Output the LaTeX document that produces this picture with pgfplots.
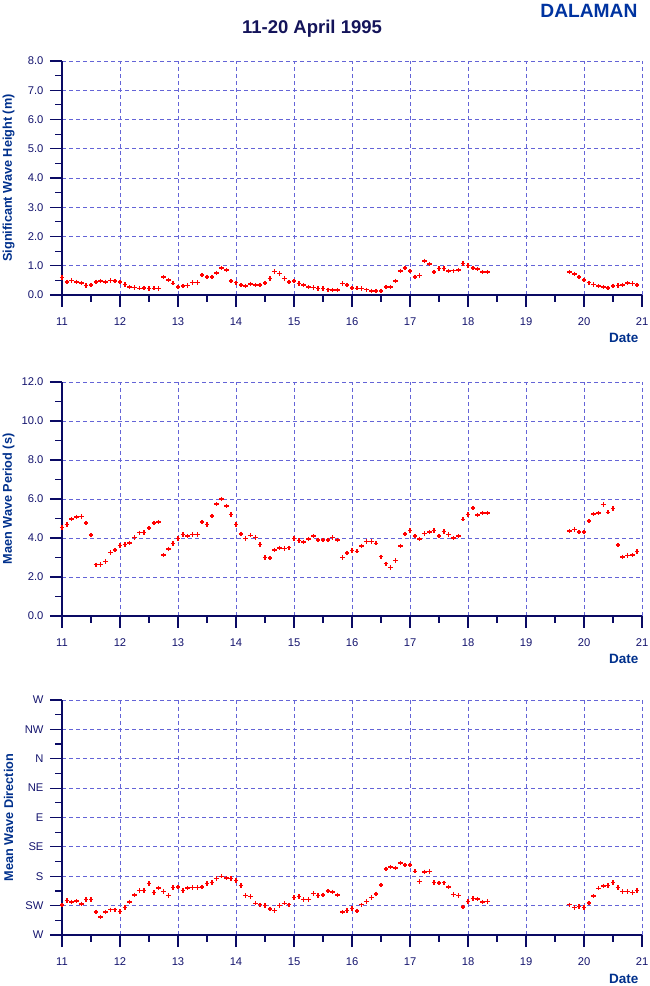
\documentclass[border=0pt]{standalone}
\usepackage{fontspec}
\setmainfont{Liberation Sans}
\usepackage{pgfplots}
\pgfplotsset{compat=1.18}
\usepackage{pgfplotstable}
\definecolor{axisnavy}{RGB}{10,10,100}
\definecolor{labnavy}{RGB}{20,20,110}
\definecolor{lblue}{RGB}{0,48,140}
\definecolor{titlenavy}{RGB}{20,20,90}
\definecolor{dblue}{RGB}{0,51,160}
\definecolor{gridblue}{RGB}{100,100,215}
\pgfplotstableread{
x hs tm dir
11.000 0.60 4.53 1.02
11.083 0.45 4.70 1.17
11.167 0.49 4.97 1.13
11.250 0.45 5.08 1.15
11.333 0.41 5.11 1.06
11.417 0.33 4.77 1.21
11.500 0.34 4.15 1.21
11.583 0.45 2.63 0.79
11.667 0.48 2.65 0.62
11.750 0.45 2.80 0.78
11.833 0.50 3.26 0.86
11.917 0.48 3.38 0.86
12.000 0.45 3.62 0.80
12.083 0.36 3.66 0.94
12.167 0.28 3.74 1.13
12.250 0.25 4.02 1.37
12.333 0.23 4.27 1.51
12.417 0.24 4.29 1.51
12.500 0.22 4.51 1.76
12.583 0.23 4.77 1.45
12.667 0.22 4.82 1.60
12.750 0.61 3.13 1.48
12.833 0.52 3.44 1.34
12.917 0.40 3.71 1.62
13.000 0.27 3.98 1.64
13.083 0.30 4.17 1.52
13.167 0.32 4.10 1.60
13.250 0.43 4.17 1.62
13.333 0.43 4.17 1.62
13.417 0.68 4.82 1.64
13.500 0.61 4.70 1.75
13.583 0.61 5.13 1.79
13.667 0.76 5.74 1.93
13.750 0.93 6.00 2.00
13.833 0.85 5.64 1.94
13.917 0.47 5.20 1.92
14.000 0.42 4.70 1.86
14.083 0.34 4.21 1.69
14.167 0.31 3.98 1.34
14.250 0.38 4.14 1.31
14.333 0.34 4.02 1.08
14.417 0.35 3.66 1.03
14.500 0.41 2.99 1.00
14.583 0.56 2.97 0.89
14.667 0.81 3.38 0.84
14.750 0.73 3.49 1.01
14.833 0.56 3.47 1.08
14.917 0.44 3.50 1.03
15.000 0.47 3.97 1.28
15.083 0.39 3.88 1.31
15.167 0.34 3.79 1.21
15.250 0.27 3.95 1.21
15.333 0.25 4.09 1.41
15.417 0.22 3.90 1.34
15.500 0.22 3.89 1.37
15.583 0.18 3.90 1.49
15.667 0.17 4.02 1.47
15.750 0.17 3.91 1.37
15.833 0.39 2.99 0.78
15.917 0.34 3.23 0.84
16.000 0.24 3.35 0.90
16.083 0.23 3.32 0.82
16.167 0.22 3.59 1.03
16.250 0.18 3.83 1.14
16.333 0.14 3.83 1.28
16.417 0.13 3.73 1.40
16.500 0.14 3.04 1.70
16.583 0.27 2.68 2.25
16.667 0.27 2.48 2.31
16.750 0.48 2.84 2.28
16.833 0.82 3.59 2.45
16.917 0.92 4.21 2.38
17.000 0.82 4.39 2.38
17.083 0.61 4.10 2.17
17.167 0.67 3.95 1.82
17.250 1.17 4.24 2.15
17.333 1.06 4.31 2.16
17.417 0.78 4.39 1.79
17.500 0.91 4.10 1.77
17.583 0.91 4.34 1.78
17.667 0.82 4.17 1.64
17.750 0.83 4.00 1.38
17.833 0.85 4.10 1.34
17.917 1.08 4.96 0.95
18.000 1.01 5.21 1.14
18.083 0.93 5.54 1.24
18.167 0.89 5.18 1.22
18.250 0.78 5.28 1.13
18.333 0.78 5.28 1.14
19.750 0.78 4.36 1.03
19.833 0.72 4.44 0.94
19.917 0.61 4.31 0.97
20.000 0.52 4.32 0.94
20.083 0.42 4.87 1.09
20.167 0.36 5.23 1.32
20.250 0.30 5.28 1.59
20.333 0.27 5.71 1.67
20.417 0.24 5.32 1.69
20.500 0.31 5.52 1.79
20.583 0.32 3.64 1.62
20.667 0.35 3.03 1.48
20.750 0.41 3.11 1.48
20.833 0.39 3.13 1.45
20.917 0.34 3.30 1.52
}\datatable
\pgfplotsset{
  myaxis/.style={
    scale only axis, width=580pt, height=234pt,
    xmin=11, xmax=21, xtick={11,...,21}, minor x tick num=1,
    axis x line=bottom, axis y line=left,
    axis line style={-, draw=axisnavy, line width=1.2pt},
    tick align=outside, major tick length=12pt, minor tick length=6.5pt,
    tick style={draw=axisnavy, line width=1.2pt},
    grid=major,
    major grid style={dash pattern=on 4pt off 3pt, draw=gridblue, line width=0.9pt},
    ticklabel style={font=\fontsize{11.2}{13}\selectfont, text=labnavy},
    xticklabel style={yshift=-7.5pt},
    yticklabel style={xshift=-3pt},
    /pgf/number format/assume math mode=true,
    xlabel={Date},
    xlabel style={at={(axis description cs:1,-0.205)}, anchor=base east,
      font=\bfseries\fontsize{13.5}{15}\selectfont, text=lblue},
    ylabel style={at={(axis description cs:-0.0922,0.5)}, anchor=center,
      font=\bfseries\fontsize{12.7}{14}\selectfont, text=lblue},
    clip=false,
  },
  mymarks/.style={only marks, mark=+, mark size=2.2pt, color=red,
    mark options={line width=1.5pt, color=red}},
}
\newcommand{\xticksdraw}{%
  \pgfplotsinvokeforeach{11,...,21}{\draw[draw=axisnavy, line width=1.3pt] (axis cs:##1,0) -- ++(0pt,-11pt);}%
  \pgfplotsinvokeforeach{11.5,12.5,...,20.5}{\draw[draw=axisnavy, line width=1.3pt] (axis cs:##1,0) -- ++(0pt,-7pt);}%
}
\begin{document}
\begin{tikzpicture}
\path[use as bounding box] (0,0) rectangle (650pt,986pt);
\node[anchor=base, font=\bfseries\fontsize{18.5}{20}\selectfont, text=titlenavy] at (312pt,952pt) {11-20 April 1995};
\node[anchor=base east, font=\bfseries\fontsize{19.2}{21}\selectfont, text=dblue] at (641pt,968pt) {DALAMAN};

\begin{axis}[myaxis, at={(62pt,691pt)}, anchor=south west,
  ymin=0, ymax=8, ytick={0,1,...,8}, minor y tick num=1,
  yticklabel style={/pgf/number format/.cd, fixed, fixed zerofill, precision=1},
  ylabel={Significant Wave Height (m)}]
\addplot[mymarks] table[x=x, y=hs] {\datatable};
\xticksdraw
\end{axis}

\begin{axis}[myaxis, at={(62pt,370pt)}, anchor=south west,
  ymin=0, ymax=12, ytick={0,2,...,12}, minor y tick num=1,
  yticklabel style={/pgf/number format/.cd, fixed, fixed zerofill, precision=1},
  ylabel={Maen Wave Period (s)}]
\addplot[mymarks] table[x=x, y=tm] {\datatable};
\xticksdraw
\end{axis}

\begin{axis}[myaxis, at={(62pt,51pt)}, anchor=south west, height=235pt,
  ymin=0, ymax=8, ytick={0,1,...,8}, minor y tick num=1,
  yticklabels={W,SW,S,SE,E,NE,N,NW,W},
  ylabel={Mean Wave Direction}]
\addplot[mymarks] table[x=x, y=dir] {\datatable};
\xticksdraw
\end{axis}
\end{tikzpicture}
\end{document}
